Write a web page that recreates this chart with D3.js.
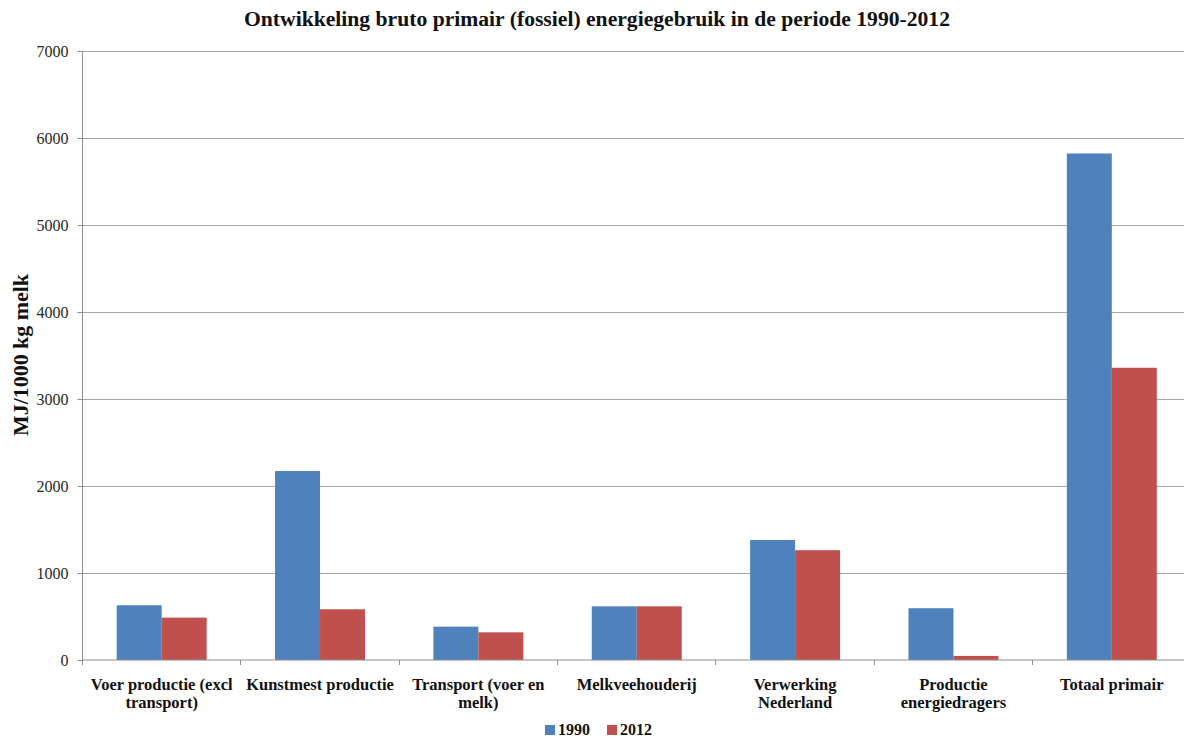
<!DOCTYPE html>
<html><head><meta charset="utf-8">
<script src="https://cdn.jsdelivr.net/npm/d3@7"></script>
<style>body{margin:0;background:#fff}svg{display:block}</style>
</head><body>
<script>
const categories = ["Voer productie (excl\ntransport)", "Kunstmest productie", "Transport (voer en\nmelk)", "Melkveehouderij", "Verwerking\nNederland", "Productie\nenergiedragers", "Totaal primair"];
const seriesNames = ["1990", "2012"];
const values1990 = [629, 2172, 383, 617, 1379, 595, 5822];
const values2012 = [487, 583, 318, 617, 1262, 47, 3359];
const yTicks = [0, 1000, 2000, 3000, 4000, 5000, 6000, 7000];
const colors = ["#4F81BD", "#C0504D"];
const title = "Ontwikkeling bruto primair (fossiel) energiegebruik in de periode 1990-2012";
const yTitle = "MJ/1000 kg melk";

const W = 1184, H = 740;
const m = {left: 82.5, right: -7, top: 51, bottom: 80};
const svg = d3.select("body").append("svg").attr("width", W).attr("height", H);
const font = "'Liberation Serif', 'Times New Roman', serif";

const x = d3.scaleBand().domain(categories).range([m.left, W - m.right]).paddingInner(0).paddingOuter(0);
const x1 = d3.scaleBand().domain(seriesNames).range([0, x.bandwidth()]).paddingInner(0).paddingOuter(0.76);
const y = d3.scaleLinear().domain([0, 7000]).range([660, m.top]);

// gridlines
svg.append("g").selectAll("line").data(yTicks.filter(d => d > 0)).join("line")
  .attr("x1", m.left).attr("x2", W - m.right)
  .attr("y1", d => y(d)).attr("y2", d => y(d))
  .attr("stroke", "#a6a6a6").attr("stroke-width", 1).attr("shape-rendering", "crispEdges");

// bars
const data = categories.map((c, i) => ({c, v: [values1990[i], values2012[i]]}));
const g = svg.append("g").selectAll("g").data(data).join("g")
  .attr("transform", d => `translate(${x(d.c)},0)`);
g.selectAll("rect").data(d => d.v.map((v, j) => ({v, s: seriesNames[j], j}))).join("rect")
  .attr("x", d => x1(d.s)).attr("width", x1.bandwidth())
  .attr("y", d => y(d.v)).attr("height", d => y(0) - y(d.v))
  .attr("fill", d => colors[d.j]);

// y axis
const yAxis = d3.axisLeft(y).tickValues(yTicks).tickSize(5).tickPadding(9).tickFormat(d3.format("d"));
const ya = svg.append("g").attr("transform", `translate(${m.left},0)`).call(yAxis);
ya.select(".domain").attr("stroke", "#8c8c8c").attr("d", `M-0,${y(7000)}V${y(0)}`);
ya.selectAll(".tick line").attr("stroke", "#8c8c8c");
ya.selectAll(".tick text").attr("font-family", font).attr("font-size", 16).attr("fill", "#262626");

// x axis
const xAxis = d3.axisBottom(x).tickSize(0).tickFormat("");
const xa = svg.append("g").attr("transform", `translate(0,${y(0)})`).call(xAxis);
xa.select(".domain").attr("stroke", "#8c8c8c").attr("d", `M${m.left},0V5M${m.left},0H${W - m.right}`);
xa.selectAll(".tick").remove();
svg.append("g").selectAll("line").data(categories.slice(1)).join("line")
  .attr("x1", d => x(d)).attr("x2", d => x(d)).attr("y1", y(0)).attr("y2", y(0) + 5)
  .attr("stroke", "#8c8c8c").attr("shape-rendering", "crispEdges");

// category labels
const lab = svg.append("g").selectAll("text").data(categories).join("text")
  .attr("x", d => x(d) + x.bandwidth() / 2).attr("y", 690)
  .attr("text-anchor", "middle").attr("font-family", font).attr("font-weight", "bold")
  .attr("font-size", 16.5).attr("fill", "#111");
lab.selectAll("tspan").data(d => d.split("\n")).join("tspan")
  .attr("x", function() { return this.parentNode.getAttribute("x"); })
  .attr("dy", (d, i) => i === 0 ? 0 : 18).text(d => d);

// title
svg.append("text").attr("x", 597).attr("y", 26).attr("text-anchor", "middle")
  .attr("font-family", font).attr("font-weight", "bold").attr("font-size", 20).attr("fill", "#111")
  .attr("textLength", 706).attr("lengthAdjust", "spacingAndGlyphs")
  .text(title);

// y title
svg.append("text").attr("transform", "translate(28,355) rotate(-90)").attr("text-anchor", "middle")
  .attr("font-family", font).attr("font-weight", "bold").attr("font-size", 21).attr("fill", "#111")
  .attr("textLength", 162).attr("lengthAdjust", "spacingAndGlyphs")
  .text(yTitle);

// legend
const leg = svg.append("g").selectAll("g").data(seriesNames).join("g")
  .attr("transform", (d, i) => `translate(${545 + i * 62},725)`);
leg.append("rect").attr("width", 10).attr("height", 10).attr("fill", (d, i) => colors[i]);
leg.append("text").attr("x", 13).attr("y", 10).attr("font-family", font).attr("font-weight", "bold")
  .attr("font-size", 16).attr("fill", "#111").text(d => d);
</script>
</body></html>
